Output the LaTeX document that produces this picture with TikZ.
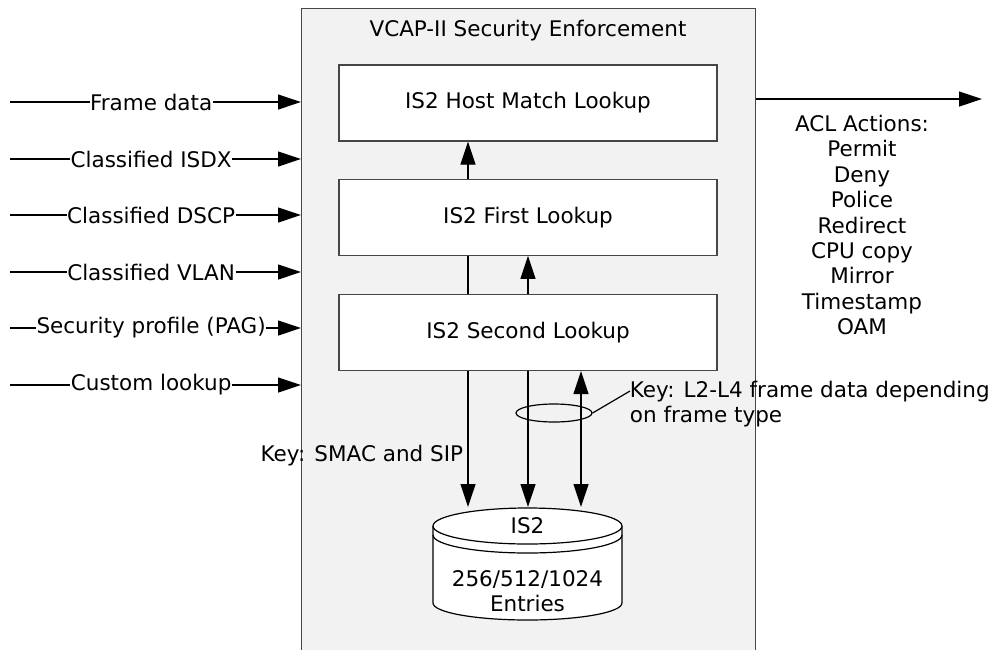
\documentclass[tikz,border=0pt]{standalone}
\usepackage{fontspec}
\setmainfont{DejaVu Sans}
\usepackage{tikz}
\usetikzlibrary{positioning,shapes.geometric,arrows.meta,calc}
\definecolor{panelgray}{RGB}{242,242,242}
\definecolor{edgegray}{RGB}{70,70,70}

\begin{document}
\begin{tikzpicture}[x=1pt,y=-1pt,line width=1.2pt,
		font=\fontsize{21.5}{25.4}\selectfont,
		lookup/.style={draw=edgegray, fill=white, minimum width=378pt, minimum height=76pt, inner sep=0pt},
		arr/.style={-{Triangle[length=23pt,width=15pt]}},
		both/.style={{Triangle[length=23pt,width=15pt]}-{Triangle[length=23pt,width=15pt]}},
		feed/.style={fill=white, inner sep=0.5pt}]
		\clip (0,0) rectangle (997,649);
		\node[draw=edgegray, fill=panelgray, minimum width=454pt, minimum height=700pt,
			anchor=north west, inner sep=0pt] (vcap) at (301,8) {};
		\node (title) at (528,31) {VCAP-II Security Enforcement};
		\node[lookup] (host) at (528,103) {IS2 Host Match Lookup};
		\node[lookup, below=37pt of host] (first) {IS2 First Lookup};
		\node[lookup, below=38pt of first] (second) {IS2 Second Lookup};
		% inputs on the left
		\foreach \lbl [count=\i] in {Frame data, Classified ISDX, Classified DSCP,
				Classified VLAN, Security profile (PAG), Custom lookup} {
			\coordinate (src\i) at (10,{102+round(56.6*(\i-1))});
			\draw[arr] (src\i) -- (src\i -| vcap.west) node[feed, pos=0.485] (in\i) {\lbl};
		}
		% lookup chain
		\draw[arr] ([xshift=-60pt]first.north) -- ([xshift=-60pt]host.south);
		\draw ([xshift=-60pt]second.north) -- ([xshift=-60pt]first.south);
		\draw[arr] (second.north) -- (first.south);
		% IS2 table
		\draw[fill=white] (433,526) -- (433,603)
			arc[start angle=180, end angle=0, x radius=94.5, y radius=17] -- (622,526);
		\draw[fill=white] (527.5,526) ellipse [x radius=94.5, y radius=18];
		\draw (433,535) arc[start angle=180, end angle=0, x radius=94.5, y radius=18];
		\node (is2) at (527.5,526) {IS2};
		\node[align=center] (entries) at (527.5,591) {256/512/1024\\Entries};
		\coordinate (db) at (527.5,507);
		\coordinate (key1) at ([xshift=-60pt]second.south);
		\coordinate (key2) at (second.south);
		\coordinate (key3) at ([xshift=53pt]second.south);
		\draw[arr] (key1) -- (key1 |- db);
		\draw[arr] (key2) -- (key2 |- db);
		\draw[both] (key3) -- (key3 |- db);
		\node[draw, ellipse, minimum width=76pt, minimum height=18pt, inner sep=0pt] (bundle) at (554,413) {};
		\node[align=left, anchor=west] (keyl) at (626,404) {Key: L2-L4 frame data depending\\on frame type};
		\coordinate (lead) at (630,391);
		\draw (bundle.east) -- (lead);
		\node[anchor=east] (smac) at (467,456) {Key: SMAC and SIP};
		% output
		\coordinate (out) at (982,99);
		\draw[arr] (vcap.east |- out) -- (out);
		\node[align=center] (acl) at (862,225) {ACL Actions:\\Permit\\Deny\\Police\\Redirect\\CPU copy\\Mirror\\Timestamp\\OAM};
	\end{tikzpicture}
\end{document}
